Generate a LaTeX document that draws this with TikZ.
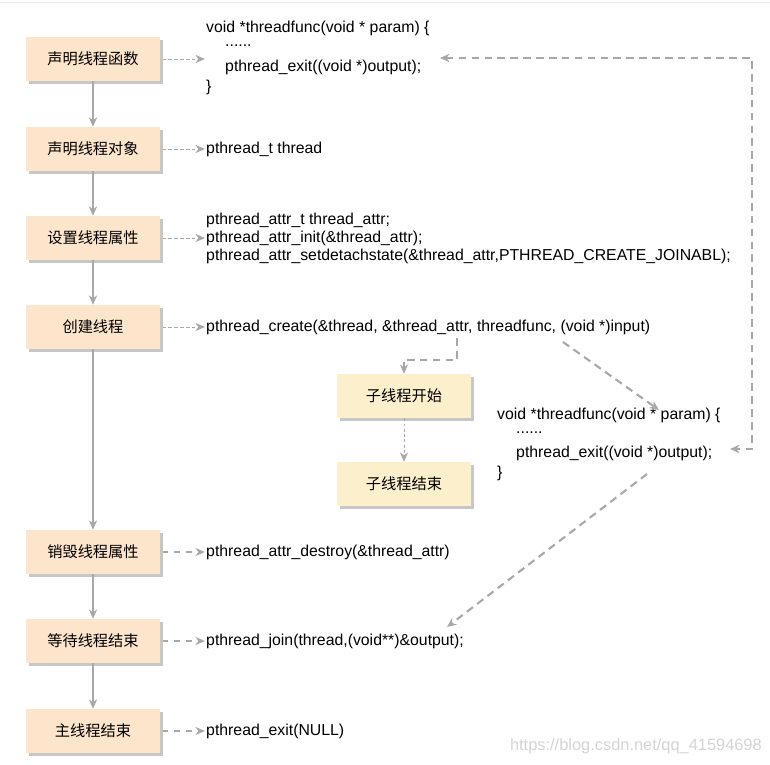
\documentclass[tikz,border=0pt]{standalone}
\usepackage{fontspec}
\setmainfont{Liberation Sans}
\newfontfamily\cjk{Noto Sans CJK SC}
\usetikzlibrary{arrows.meta,shadows}
\definecolor{linegray}{RGB}{168,168,168}
\definecolor{mainfill}{RGB}{253,229,204}
\definecolor{subfill}{RGB}{252,239,204}
\definecolor{markgray}{RGB}{212,212,212}
\tikzset{
	stepbox/.style={fill=mainfill, minimum width=4.02cm, minimum height=1.32cm, inner sep=0pt,
		font=\cjk\fontsize{13}{15}\selectfont,
		drop shadow={shadow xshift=.08cm, shadow yshift=-.08cm, fill=black!22, opacity=1}},
	childbox/.style={stepbox, fill=subfill},
	code/.style={anchor=west, inner sep=0pt, font=\fontsize{13.5}{16}\selectfont},
	tip/.style={-{Stealth[length=8pt,width=7pt,inset=2.5pt]}},
	flow/.style={tip, draw=linegray, line width=1.2pt},
	call/.style={tip, draw=linegray, line width=.8pt, dash pattern=on 3pt off 2pt},
	callb/.style={tip, draw=linegray, line width=1.1pt, dash pattern=on 5pt off 5pt},
	jump/.style={tip, draw=linegray, line width=1.8pt, dash pattern=on 6.5pt off 4.5pt},
}
\begin{document}
\begin{tikzpicture}[x=.03cm,y=-.03cm]
	\useasboundingbox (0,0) rectangle (770,765);
	\draw[black!8] (0,2) -- (770,2);
	% main thread
	\node[stepbox] (b1) at (93,59) {声明线程函数};
	\node[stepbox] (b2) at (93,149) {声明线程对象};
	\node[stepbox] (b3) at (93,238) {设置线程属性};
	\node[stepbox] (b4) at (93,327) {创建线程};
	\node[stepbox] (b5) at (93,552) {销毁线程属性};
	\node[stepbox] (b6) at (93,641) {等待线程结束};
	\node[stepbox] (b7) at (93,731) {主线程结束};
	\foreach \a/\b in {b1/b2,b2/b3,b3/b4,b4/b5,b5/b6,b6/b7}
		\draw[flow] (\a) -- (\b);
	% child thread
	\node[childbox] (c1) at (404,396) {子线程开始};
	\node[childbox] (c2) at (404,484) {子线程结束};
	\draw[call, line width=.7pt, dash pattern=on 2.5pt off 2pt] (c1) -- (c2);
	% code
	\node[code] (f1a) at (206,28) {void *threadfunc(void * param) \{};
	\node[code] (f1b) at (225,46) {......};
	\node[code] (f1c) at (225,67) {pthread\_exit((void *)output);};
	\node[code] (f1d) at (206,87) {\}};
	\node[code] (t2) at (206,149) {pthread\_t thread};
	\node[code] (t3a) at (206,220) {pthread\_attr\_t thread\_attr;};
	\node[code] (t3b) at (206,238) {pthread\_attr\_init(\&thread\_attr);};
	\node[code] (t3c) at (206,256) {pthread\_attr\_setdetachstate(\&thread\_attr,PTHREAD\_CREATE\_JOINABL);};
	\node[code] (t4) at (206,327) {pthread\_create(\&thread, \&thread\_attr, threadfunc, (void *)input)};
	\node[code] (f2a) at (497,415) {void *threadfunc(void * param) \{};
	\node[code] (f2b) at (516,433) {......};
	\node[code] (f2c) at (516,453) {pthread\_exit((void *)output);};
	\node[code] (f2d) at (497,473) {\}};
	\node[code] (t5) at (206,552) {pthread\_attr\_destroy(\&thread\_attr)};
	\node[code] (t6) at (206,641) {pthread\_join(thread,(void**)\&output);};
	\node[code] (t7) at (206,731) {pthread\_exit(NULL)};
	\foreach \a/\b in {b1/f1a,b2/t2,b3/t3b,b4/t4}
		\draw[call, shorten <=2pt, shorten >=1pt] (\a.east) -- (\a.east -| \b.west);
	\foreach \a/\b in {b5/t5,b6/t6,b7/t7}
		\draw[callb, shorten <=2pt, shorten >=1pt] (\a.east) -- (\a.east -| \b.west);
	% jumps
	\coordinate (fork) at (457,338);
	\coordinate (go) at (563,342);
	\coordinate (back) at (647,474);
	\coordinate (rt) at (752,58);
	\coordinate (rb) at (752,449);
	\draw[jump] (fork) -- (457,360) -- (c1.north |- 0,360) -- (c1.north);
	\draw[jump] (go) -- (659,410);
	\draw[jump] (back) -- (447,627);
	\draw[jump, {Stealth[length=8pt,width=7pt,inset=2.5pt]}-{Stealth[length=8pt,width=7pt,inset=2.5pt]}] (440,58) -- (rt) -- (rb) -- (730,449);
	\node[anchor=east, inner sep=0pt, text=markgray, font=\fontsize{14}{16}\selectfont] (mark) at (762,746) {https://blog.csdn.net/qq\_41594698};
\end{tikzpicture}
\end{document}
